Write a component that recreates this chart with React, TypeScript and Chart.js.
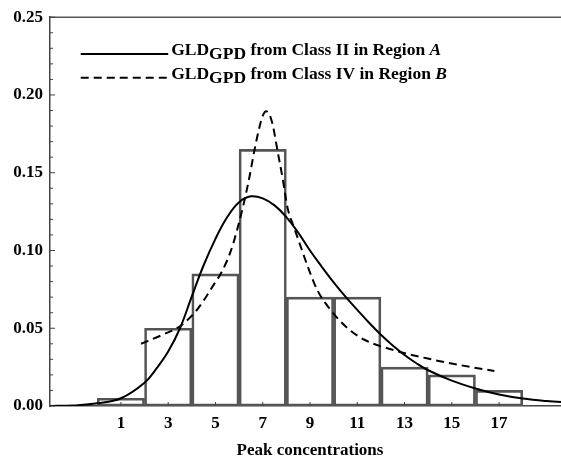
import React, { useEffect, useRef } from "react";
import { Chart, registerables } from "chart.js";

Chart.register(...registerables);

// ---------- data ----------
const binCenters = [1, 3, 5, 7, 9, 11, 13, 15, 17];
const binHeights = [0.005, 0.05, 0.085, 0.165, 0.07, 0.07, 0.025, 0.02, 0.01];

const solidX = [-2, -1, 0, 1, 2, 2.5, 3, 3.5, 4, 4.5, 5, 5.5, 6, 6.5, 7, 7.5, 8, 8.5, 9, 9.5, 10, 10.5, 11, 11.5, 12, 12.5, 13, 13.5, 14, 15, 16, 17, 18, 19, 20];
const solidY = [0.0, 0.0004, 0.0017, 0.005, 0.015, 0.024, 0.035, 0.05, 0.0705, 0.0905, 0.1075, 0.1215, 0.131, 0.1348, 0.1335, 0.129, 0.1215, 0.1115, 0.1, 0.0895, 0.0795, 0.0703, 0.0618, 0.0535, 0.0458, 0.0389, 0.0328, 0.0275, 0.023, 0.0163, 0.0113, 0.0074, 0.0048, 0.0032, 0.0022];

const dashedX = [1.85, 2.7, 3.54, 4.25, 4.95, 5.23, 5.65, 5.94, 6.22, 6.43, 6.64, 6.85, 7.0, 7.14, 7.28, 7.42, 7.63, 7.84, 8.05, 8.33, 8.62, 8.97, 9.32, 9.89, 10.59, 11.3, 12.57, 13.98, 15.39, 16.8];
const dashedY = [0.04, 0.0454, 0.0518, 0.0625, 0.0785, 0.0852, 0.0997, 0.1146, 0.1317, 0.1466, 0.1637, 0.1786, 0.1865, 0.1895, 0.1875, 0.181, 0.1637, 0.1466, 0.1274, 0.1146, 0.1019, 0.087, 0.0742, 0.0614, 0.05, 0.0426, 0.0358, 0.0305, 0.0262, 0.0225];

const xTickValues = [1, 3, 5, 7, 9, 11, 13, 15, 17];
const yMinorStep = 0.01;
const xAxisTitle = "Peak concentrations";

const legendRows = [
  { dash: [] as number[], parts: [["GLD", "n"], ["GPD", "sub"], [" from Class II in Region ", "n"], ["A", "it"]] },
  { dash: [8, 5], parts: [["GLD", "n"], ["GPD", "sub"], [" from Class IV in Region ", "n"], ["B", "it"]] },
];

const FONT = "'Liberation Serif', 'Times New Roman', serif";

const decorPlugin = {
  id: "decor",
  afterDatasetsDraw(chart: any) {
    const { ctx, chartArea, scales } = chart;
    const x = scales.x;
    const y = scales.y;
    ctx.save();
    // top frame line
    ctx.strokeStyle = "#555";
    ctx.lineWidth = 1.5;
    ctx.beginPath();
    ctx.moveTo(chartArea.left, chartArea.top);
    ctx.lineTo(chartArea.right, chartArea.top);
    ctx.stroke();
    // inward ticks
    ctx.strokeStyle = "#444";
    ctx.lineWidth = 1;
    for (const v of xTickValues) {
      const px = x.getPixelForValue(v);
      ctx.beginPath();
      ctx.moveTo(px, chartArea.bottom);
      ctx.lineTo(px, chartArea.bottom - 4);
      ctx.stroke();
    }
    for (let i = 0; i <= Math.round(y.max / yMinorStep); i++) {
      const v = i * yMinorStep;
      const py = y.getPixelForValue(v);
      const len = i % 5 === 0 ? 5 : 3;
      ctx.beginPath();
      ctx.moveTo(chartArea.left, py);
      ctx.lineTo(chartArea.left + len, py);
      ctx.stroke();
    }
    // legend
    const lx0 = x.getPixelForValue(-0.7);
    const lx1 = x.getPixelForValue(3.0);
    const rowY = [54, 77.7];
    legendRows.forEach((row, i) => {
      const yy = rowY[i];
      ctx.strokeStyle = "#000";
      ctx.lineWidth = 2;
      ctx.setLineDash(row.dash);
      ctx.beginPath();
      ctx.moveTo(lx0, yy);
      ctx.lineTo(lx1, yy);
      ctx.stroke();
      ctx.setLineDash([]);
      let tx = lx1 + 3;
      ctx.fillStyle = "#000";
      ctx.textBaseline = "alphabetic";
      ctx.textAlign = "left";
      for (const [text, kind] of row.parts) {
        ctx.font = (kind === "it" ? "italic bold 17.5px " : "bold 17.5px ") + FONT;
        const by = kind === "sub" ? yy + 5 : yy + 1;
        ctx.fillText(text, tx, by);
        tx += ctx.measureText(text).width;
      }
    });
    ctx.restore();
  },
};

export default function App() {
  const ref = useRef<HTMLCanvasElement>(null);
  useEffect(() => {
    document.body.style.margin = "0";
    document.body.style.overflow = "hidden";
    const chart = new Chart(ref.current!, {
      type: "bar",
      data: {
        datasets: [
          {
            type: "line",
            data: solidX.map((v, i) => ({ x: v, y: solidY[i] })),
            borderColor: "#000",
            borderWidth: 2,
            pointRadius: 0,
            tension: 0.4,
            fill: false,
            order: 1,
          } as any,
          {
            type: "line",
            data: dashedX.map((v, i) => ({ x: v, y: dashedY[i] })),
            borderColor: "#000",
            borderWidth: 2,
            borderDash: [8, 5],
            pointRadius: 0,
            cubicInterpolationMode: "monotone",
            fill: false,
            order: 1,
          } as any,
          {
            type: "bar",
            data: binCenters.map((v, i) => ({ x: v, y: binHeights[i] })),
            backgroundColor: "rgba(255,255,255,0)",
            borderColor: "#555",
            borderWidth: 2,
            borderSkipped: false,
            barPercentage: 1,
            categoryPercentage: 1,
            grouped: false,
            order: 2,
          } as any,
        ],
      },
      options: {
        animation: false,
        responsive: false,
        maintainAspectRatio: false,
        layout: { padding: { top: 15, right: 0, left: 0, bottom: 0 } },
        plugins: { legend: { display: false }, tooltip: { enabled: false } },
        scales: {
          x: {
            type: "linear",
            min: -2,
            max: 20,
            offset: false,
            grid: { display: false, drawTicks: false },
            border: { display: true, color: "#444", width: 1.5 },
            afterBuildTicks: (s: any) => {
              s.ticks = xTickValues.map((v) => ({ value: v }));
            },
            afterFit: (s: any) => {
              s.height = 55;
            },
            ticks: {
              autoSkip: false,
              maxRotation: 0,
              padding: 7,
              color: "#000",
              font: { family: FONT, size: 17, weight: "bold" },
              callback: (v: any) => String(v),
            },
            title: {
              display: true,
              text: xAxisTitle,
              color: "#000",
              font: { family: FONT, size: 17, weight: "bold" },
              padding: { top: 0, bottom: 0 },
            },
          },
          y: {
            type: "linear",
            min: 0,
            max: 0.25,
            grid: { display: false, drawTicks: false },
            border: { display: true, color: "#444", width: 1.5 },
            afterFit: (s: any) => {
              s.width = 50;
            },
            ticks: {
              stepSize: 0.05,
              padding: 7,
              color: "#000",
              font: { family: FONT, size: 17, weight: "bold" },
              callback: (v: any) => Number(v).toFixed(2),
            },
          },
        },
      } as any,
      plugins: [decorPlugin],
    });
    return () => chart.destroy();
  }, []);
  return (
    <div style={{ width: 561, height: 461, overflow: "hidden", background: "#fff" }}>
      <canvas ref={ref} width={570} height={461} style={{ display: "block" }} />
    </div>
  );
}
